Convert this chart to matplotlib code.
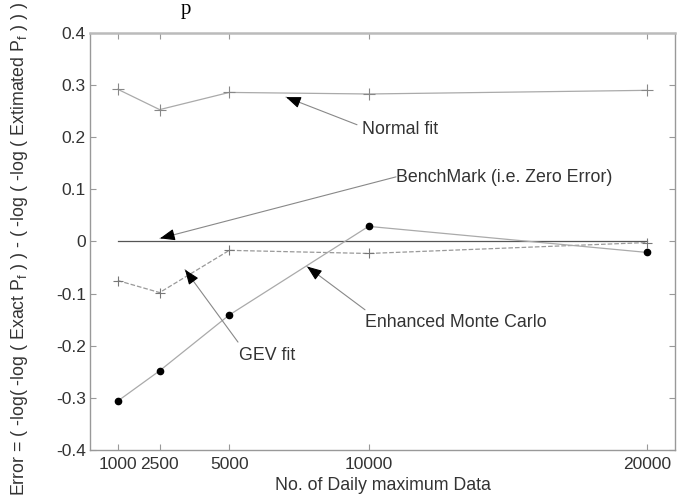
import matplotlib
matplotlib.use('Agg')
import numpy as np
import matplotlib.pyplot as plt

plt.rcParams['font.family'] = ['Liberation Sans', 'DejaVu Sans']

# values
n_data = [1000, 2500, 5000, 10000, 20000]
normal_fit = [0.292, 0.253, 0.286, 0.283, 0.290]
gev_fit = [-0.075, -0.098, -0.017, -0.023, -0.002]
enhanced_mc = [-0.306, -0.248, -0.141, 0.029, -0.021]
benchmark = [0, 0, 0, 0, 0]
y_ticks = [-0.4, -0.3, -0.2, -0.1, 0, 0.1, 0.2, 0.3, 0.4]
y_tick_labels = ['-0.4', '-0.3', '-0.2', '-0.1', '0', '0.1', '0.2', '0.3', '0.4']

fig = plt.figure(figsize=(6.87, 4.97), dpi=100)
ax = fig.add_axes([0.131, 0.0946, 0.8515, 0.839])

ax.plot(n_data, benchmark, '-', color='#555555', lw=0.9)
ax.plot(n_data, normal_fit, '-', color='#aaaaaa', lw=0.9,
        marker='+', ms=9, mec='#888888', mew=0.8)
ax.plot(n_data, gev_fit, '--', color='#999999', lw=0.9,
        marker='+', ms=7, mec='#777777', mew=0.8)
ax.plot(n_data, enhanced_mc, '-', color='#aaaaaa', lw=0.9,
        marker='o', ms=4.5, mfc='black', mec='black')

ax.set_xlim(0, 21000)
ax.set_ylim(-0.4, 0.4)
ax.set_xticks(n_data)
ax.set_xticklabels([str(v) for v in n_data])
ax.set_yticks(y_ticks)
ax.set_yticklabels(y_tick_labels)
ax.tick_params(direction='in', length=4, width=0.8, colors='#999999',
               labelcolor='#333333', labelsize=12.5, top=True, right=True)
ax.tick_params(axis='x', pad=5)
ax.tick_params(axis='y', pad=3)
for s in ax.spines.values():
    s.set_color('#999999')
    s.set_linewidth(1.0)
ax.spines['top'].set_linewidth(1.8)
ax.spines['top'].set_color('#bbbbbb')

ax.set_xlabel('No. of Daily maximum Data', fontsize=12.8, color='#333333', labelpad=4)
fig.text(0.029, 0.002,
         'Error = ( -log( -log ( Exact P$_\\mathregular{f}$ ) ) - ( -log ( -log ( Extimated P$_\\mathregular{f}$ ) ) )',
         rotation=90, ha='center', va='bottom', fontsize=12.8, color='#333333')


def pointer(tip, tail):
    # grey shaft, black head (drawn separately, like the original)
    ax.annotate('', xy=tip, xytext=tail,
                arrowprops=dict(arrowstyle='-', color='#888888', lw=0.8,
                                shrinkA=0, shrinkB=0))
    p_tip = ax.transData.transform(tip)
    p_tail = ax.transData.transform(tail)
    u = (p_tail - p_tip) / np.hypot(*(p_tail - p_tip))
    start = ax.transData.inverted().transform(p_tip + u * 11)
    ax.annotate('', xy=tip, xytext=start,
                arrowprops=dict(arrowstyle='-|>,head_length=0.9,head_width=0.35',
                                color='black', lw=0.8, shrinkA=0, shrinkB=0))


txt = dict(fontsize=12.8, color='#333333', ha='left', va='center')

pointer((7036, 0.277), (9585, 0.224))
ax.text(9750, 0.215, 'Normal fit', **txt)
pointer((2513, 0.006), (10985, 0.124))
ax.text(11000, 0.122, 'BenchMark (i.e. Zero Error)', **txt)
pointer((7790, -0.048), (9872, -0.131))
ax.text(9880, -0.155, 'Enhanced Monte Carlo', **txt)
pointer((3410, -0.054), (5313, -0.193))
ax.text(5350, -0.219, 'GEV fit', **txt)

# caption glyph at the top edge
fig.text(0.27, 0.999, 'p', fontsize=15, family='Liberation Serif',
         ha='center', va='top', color='black')

fig.savefig('out.png', dpi=100)
